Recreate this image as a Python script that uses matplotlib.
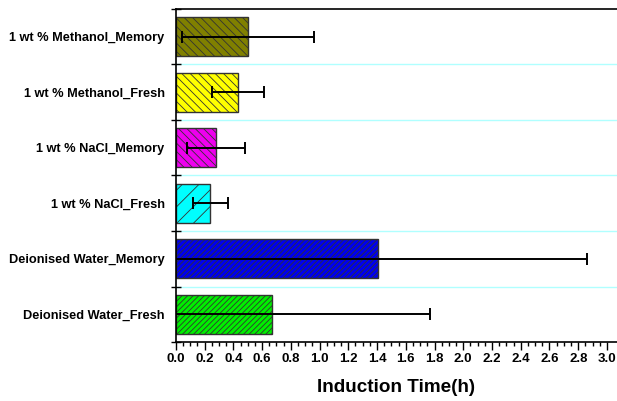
import numpy as np
import matplotlib.pyplot as plt

plt.rcParams['font.family'] = ['Liberation Sans', 'DejaVu Sans']
plt.rcParams['hatch.linewidth'] = 0.6

# bottom to top
labels = ['Deionised Water_Fresh', 'Deionised Water_Memory', '1 wt % NaCl_Fresh',
          '1 wt % NaCl_Memory', '1 wt % Methanol_Fresh', '1 wt % Methanol_Memory']
means = [0.67, 1.41, 0.24, 0.28, 0.43, 0.50]
errors = [1.10, 1.45, 0.12, 0.20, 0.18, 0.46]
colors = ['#00ee00', '#0000ee', '#00ffff', '#ee00ee', '#ffff00', '#808000']
hatches = ['//////', '//////', '//', '\\\\\\\\', '\\\\\\\\', '\\\\\\\\']

fig = plt.figure(figsize=(6.17, 4.01), dpi=100)
ax = fig.add_axes([0.285, 0.147, 0.715, 0.831])

y = np.arange(len(labels))
for i in range(len(labels)):
    ax.barh(y[i], means[i], height=0.7, color=colors[i], edgecolor='#333333',
            linewidth=1.0, hatch=hatches[i], zorder=2)
ax.errorbar(means, y, xerr=errors, fmt='none', ecolor='black', elinewidth=1.4,
            capsize=4, capthick=1.4, zorder=3)

ax.set_xlim(0, 3.07)
ax.set_ylim(-0.5, len(labels) - 0.5)

# category boundaries
bounds = np.arange(-0.5, len(labels), 1.0)
for b in bounds[1:-1]:
    ax.axhline(b, color='#b0ffff', linewidth=1.0, zorder=1)

ax.set_yticks(bounds)
ax.set_yticklabels([])
ax.set_yticks(y, minor=True)
ax.set_yticklabels(labels, minor=True, fontsize=9.2, fontweight='bold')
ax.tick_params(axis='y', which='major', direction='inout', length=7, width=1)
ax.tick_params(axis='y', which='minor', length=0, pad=8)

ax.set_xticks(np.arange(0, 3.01, 0.2))
ax.set_xticklabels([f'{v:.1f}' for v in np.arange(0, 3.01, 0.2)],
                   fontsize=9.5, fontweight='bold')
ax.set_xticks(np.arange(0, 3.04, 0.05), minor=True)
ax.tick_params(axis='x', which='major', direction='out', length=6, width=1, pad=2)
ax.tick_params(axis='x', which='minor', direction='out', length=3, width=1)

ax.set_xlabel('Induction Time(h)', fontsize=13.6, fontweight='bold', labelpad=10)

ax.spines['right'].set_visible(False)
for s in ['left', 'bottom', 'top']:
    ax.spines[s].set_linewidth(1.2)

fig.savefig('out.png', dpi=100)
